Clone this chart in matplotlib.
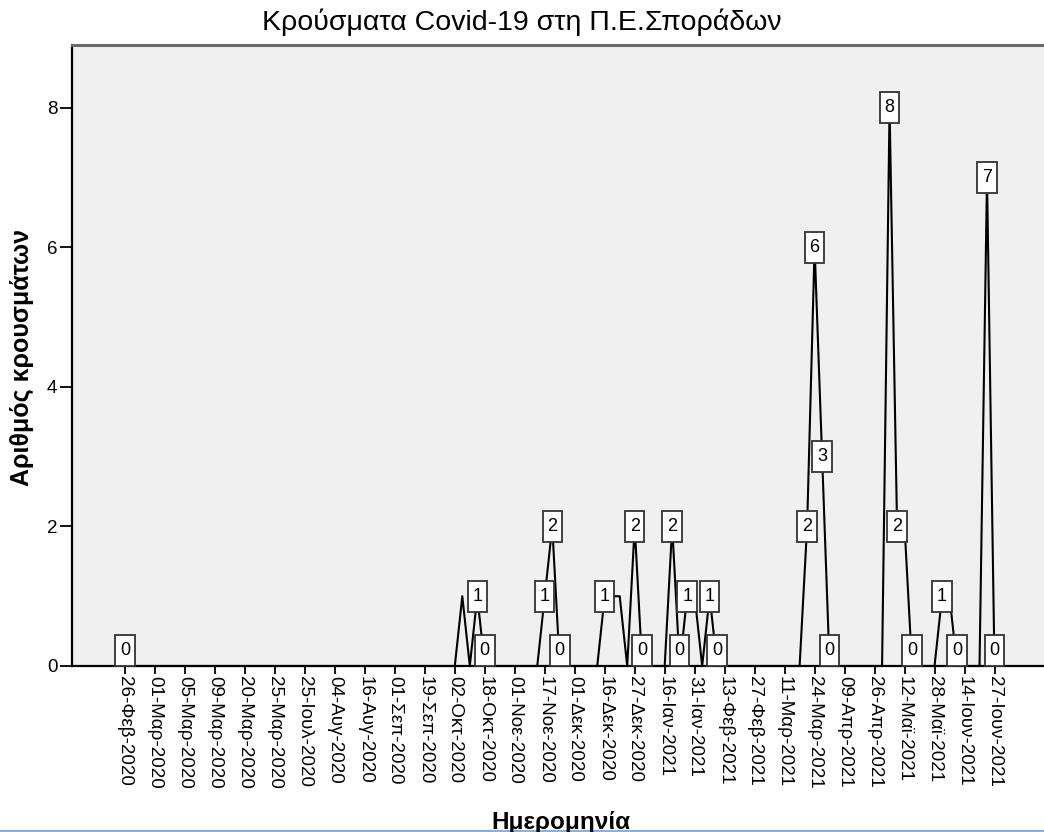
import matplotlib.pyplot as plt
from matplotlib.lines import Line2D
from matplotlib.path import Path

# daily records (category axis, one entry per recorded date)
cases = [
    0, 0, 0, 0, 0, 0, 0, 0, 0, 0, 0, 0, 0, 0, 0, 0, 0, 0, 0, 0,
    0, 0, 0, 0, 0, 0, 0, 0, 0, 0, 0, 0, 0, 0, 0, 0, 0, 0, 0, 0,
    0, 0, 0, 0, 0, 1, 0, 1, 0, 0, 0, 0, 0, 0, 0, 0, 1, 2, 0, 0,
    0, 0, 0, 0, 1, 1, 1, 0, 2, 0, 0, 0, 0, 2, 0, 1, 1, 0, 1, 0,
    0, 0, 0, 0, 0, 0, 0, 0, 0, 0, 0, 2, 6, 3, 0, 0, 0, 0, 0, 0,
    0, 0, 8, 2, 2, 0, 0, 0, 0, 1, 1, 0, 0, 0, 0, 7, 0,
]

# only every 4th date is labelled on the axis
date_labels = [
    "26-Φεβ-2020", "01-Μαρ-2020", "05-Μαρ-2020", "09-Μαρ-2020", "20-Μαρ-2020",
    "25-Μαρ-2020", "25-Ιουλ-2020", "04-Αυγ-2020", "16-Αυγ-2020", "01-Σεπ-2020",
    "19-Σεπ-2020", "02-Οκτ-2020", "18-Οκτ-2020", "01-Νοε-2020", "17-Νοε-2020",
    "01-Δεκ-2020", "16-Δεκ-2020", "27-Δεκ-2020", "16-Ιαν-2021", "31-Ιαν-2021",
    "13-Φεβ-2021", "27-Φεβ-2021", "11-Μαρ-2021", "24-Μαρ-2021", "09-Απρ-2021",
    "26-Απρ-2021", "12-Μαϊ-2021", "28-Μαϊ-2021", "14-Ιουν-2021", "27-Ιουν-2021",
]
label_step = 4

# points that carry a value box
labelled_points = [0, 47, 48, 56, 57, 58, 64, 68, 69, 73, 74, 75, 78, 79,
                   91, 92, 93, 94, 102, 103, 105, 109, 111, 115, 116]


def tall_box(x0, y0, width, height, mutation_size):
    # SPSS style label box: fixed size, taller than wide
    cx, cy = x0 + width / 2, y0 + height / 2
    hw = max(width / 2 + 0.26 * mutation_size, 0.53 * mutation_size)
    hh = 0.86 * mutation_size
    return Path([(cx - hw, cy - hh), (cx + hw, cy - hh), (cx + hw, cy + hh),
                 (cx - hw, cy + hh), (cx - hw, cy - hh)], closed=True)


plt.rcParams['font.family'] = ['Liberation Sans', 'DejaVu Sans']

W, H = 1044, 832
fig = plt.figure(figsize=(W / 100, H / 100), dpi=100)
left_px, right_px, top_px, bottom_px = 72, 1047.5, 45, 666
ax = fig.add_axes([left_px / W, 1 - bottom_px / H,
                   (right_px - left_px) / W, (bottom_px - top_px) / H])
ax.set_facecolor('#f0f0f0')

x = list(range(len(cases)))
ax.plot(x, cases, color='black', lw=1.5, zorder=2, clip_on=False)

for i in labelled_points:
    v = cases[i]
    dy = 11 if v == 0 else 0
    ax.annotate(str(v), (i, v), xytext=(0, dy), textcoords='offset points',
                ha='center', va='center', fontsize=13, zorder=3,
                bbox=dict(boxstyle=tall_box, fc='white',
                          ec='#333333', lw=1.3))

ax.set_xlim(-7.07, 123.07)
ax.set_ylim(0, 8.9)

ax.set_xticks(range(0, label_step * len(date_labels), label_step))
ax.set_xticklabels(date_labels, rotation=-90, fontsize=13.5, va='top', ha='center')
ax.set_yticks([0, 2, 4, 6, 8])
ax.tick_params(axis='x', length=6, width=1.3, pad=1)
ax.tick_params(axis='y', length=8.5, width=1.3, pad=2, labelsize=13.5)

for side in ['left', 'bottom']:
    ax.spines[side].set_linewidth(1.6)
    ax.spines[side].set_color('black')
ax.spines['top'].set_linewidth(2.2)
ax.spines['top'].set_color('#6a6a6a')
ax.spines['right'].set_visible(False)

fig.text(0.5, 1 - 22 / H, "Κρούσματα Covid-19 στη Π.Ε.Σποράδων",
         ha='center', va='center', fontsize=20.5)
fig.text(22 / W, 1 - 358 / H, "Αριθμός κρουσμάτων", rotation=90,
         ha='center', va='center', fontsize=18, fontweight='bold')
fig.text(561 / W, 1 - 811 / H, "Ημερομηνία", ha='center', va='top',
         fontsize=17.5, fontweight='bold')

# window border seen at the bottom of the screenshot
fig.add_artist(Line2D([0, 1], [1 - 830.5 / H] * 2, color='#7eb4ea', lw=1.5))

fig.savefig('out.png', dpi=100)
